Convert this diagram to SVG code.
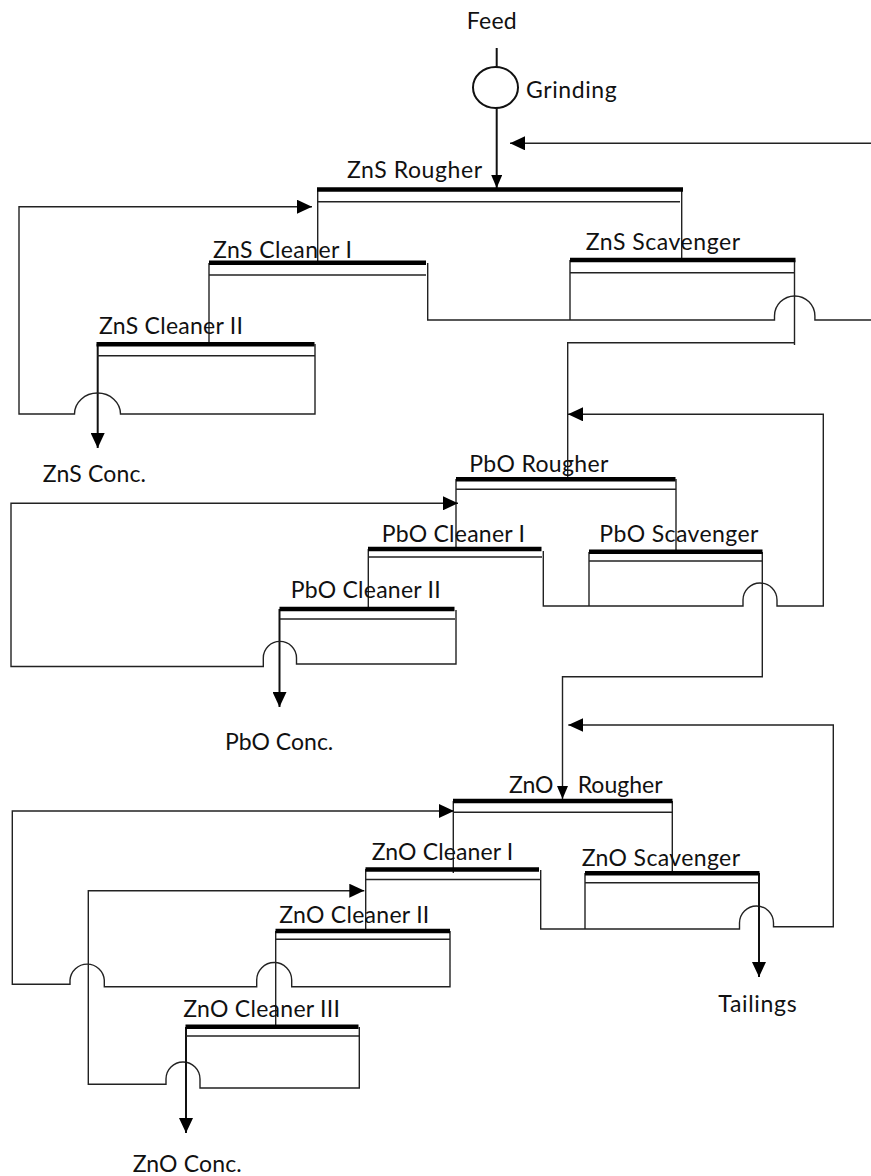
<svg xmlns="http://www.w3.org/2000/svg" width="871" height="1176" viewBox="0 0 871 1176">
<style>
text { font-family: Lato, "Liberation Sans", sans-serif; font-size: 23px; fill: #111; }
.bar { stroke: #000; stroke-width: 4.5; fill: none; }
.sub { stroke: #222; stroke-width: 1.4; fill: none; }
.c { stroke: #222; stroke-width: 1.4; fill: none; }
.cb { stroke: #111; stroke-width: 2; fill: none; }
</style>
<defs>
<marker id="ah" viewBox="0 0 15 14" refX="15" refY="7" markerWidth="15" markerHeight="14" orient="auto" markerUnits="userSpaceOnUse"><path d="M0,0 L15,7 L0,14 Z" fill="#000"/></marker>
<marker id="as" viewBox="0 0 13 11" refX="13" refY="5.5" markerWidth="13" markerHeight="11" orient="auto" markerUnits="userSpaceOnUse"><path d="M0,0 L13,5.5 L0,11 Z" fill="#000"/></marker>
</defs>
<rect width="871" height="1176" fill="#fff"/>

<g id="connectors">
<path class="cb" d="M496.7 48 V67"/>
<path class="cb" d="M496.7 108 V188" marker-end="url(#as)"/>
<path class="c" d="M871 143.3 H510" marker-end="url(#ah)"/>
<path class="c" d="M317.7 189 V262"/>
<path class="c" d="M681.7 190 V258"/>
<path class="c" d="M209 263 V344"/>
<path class="c" d="M427.7 263 V320 H774.5 V316 A20.2 20 0 0 1 814.9 316 V320 H871"/>
<path class="c" d="M570 260 V320"/>
<path class="c" d="M794.5 260 V345 M794.5 342.7 H567.7 V479"/>
<path class="cb" d="M97.7 344 V448" marker-end="url(#ah)"/>
<path class="c" d="M315 344 V414 H120.5 A23 21 0 0 0 74.5 414 H19 V206.7 H312" marker-end="url(#ah)"/>

<path class="c" d="M543.3 551 V606 H743 V600 A17 17 0 0 1 777 600 V606 H823.3 V414.3 H568" marker-end="url(#ah)"/>
<path class="c" d="M456 479 V549"/>
<path class="c" d="M676 479 V551"/>
<path class="c" d="M589 552 V606"/>
<path class="c" d="M368.3 549 V609"/>
<path class="cb" d="M279.5 609 V707" marker-end="url(#ah)"/>
<path class="c" d="M456 610 V664 H296.5 V658 A16.6 16.6 0 0 0 263.3 658 V666.5 H11 V503.3 H458" marker-end="url(#ah)"/>
<path class="c" d="M762.3 552 V676.7 H562.5 V799" marker-end="url(#as)"/>

<path class="c" d="M540.7 870 V929 H739.5 V923 A17 17 0 0 1 773.5 923 V926.7 H833.3 V725 H568.3" marker-end="url(#ah)"/>
<path class="c" d="M453.3 801 V873"/>
<path class="c" d="M672.3 801 V872"/>
<path class="c" d="M585 873 V929"/>
<path class="cb" d="M759 873 V977" marker-end="url(#ah)"/>
<path class="c" d="M450 931 V986.7 H291.7 V980 A17.5 17.5 0 0 0 256.7 980 V986.7 H104.3 V980 A17.2 17.2 0 0 0 70 980 V984.3 H12.3 V811 H454" marker-end="url(#ah)"/>
<path class="c" d="M365.7 869 V931"/>
<path class="c" d="M359.3 1027 V1088 H200 V1079 A17 17 0 0 0 166 1079 V1084.3 H88.3 V890.7 H364.3" marker-end="url(#ah)"/>
<path class="c" d="M275.7 931 V1027"/>
<path class="cb" d="M186 1027 V1133" marker-end="url(#ah)"/>
</g>

<g id="feed"><text x="466.7" y="29" textLength="50">Feed</text></g>
<g id="grinding"><ellipse cx="495.5" cy="87.5" rx="22.5" ry="20.5" fill="none" stroke="#111" stroke-width="2"/><text x="526" y="98.3" textLength="90.7">Grinding</text></g>

<g id="zns-rougher"><path class="bar" d="M317 189.5 H683"/><path class="sub" d="M317 201.7 H680"/><text x="347" y="178" textLength="135">ZnS Rougher</text></g>
<g id="zns-cleaner-1"><path class="bar" d="M209 262.7 H426"/><path class="sub" d="M209 275 H426"/><text x="213" y="258.3" textLength="139">ZnS Cleaner I</text></g>
<g id="zns-scavenger"><path class="bar" d="M570 260 H795.5"/><path class="sub" d="M570 272.7 H795"/><text x="585.7" y="250" textLength="154.3">ZnS Scavenger</text></g>
<g id="zns-cleaner-2"><path class="bar" d="M96.5 344.3 H314.5"/><path class="sub" d="M97 355.7 H315"/><text x="99" y="334.3" textLength="144">ZnS Cleaner II</text></g>
<g id="zns-conc"><text x="42.7" y="481.7" textLength="103.3">ZnS Conc.</text></g>

<g id="pbo-rougher"><path class="bar" d="M456 479.3 H675.5"/><path class="sub" d="M456 489.3 H676"/><text x="469.3" y="471.7" textLength="139">PbO Rougher</text></g>
<g id="pbo-cleaner-1"><path class="bar" d="M368 549 H541.5"/><path class="sub" d="M368 557 H542"/><text x="381.7" y="541.7" textLength="143.3">PbO Cleaner I</text></g>
<g id="pbo-scavenger"><path class="bar" d="M589 551.7 H762.5"/><path class="sub" d="M589 561 H762"/><text x="599.3" y="541.7" textLength="159">PbO Scavenger</text></g>
<g id="pbo-cleaner-2"><path class="bar" d="M279.5 609 H454.5"/><path class="sub" d="M280 619 H455"/><text x="290.7" y="598.3" textLength="150">PbO Cleaner II</text></g>
<g id="pbo-conc"><text x="225" y="750" textLength="108.3">PbO Conc.</text></g>

<g id="zno-rougher"><path class="bar" d="M453 801 H672.5"/><path class="sub" d="M453.3 812.3 H672.3"/><text x="509" y="793.3">ZnO <tspan x="577.7">Rougher</tspan></text></g>
<g id="zno-cleaner-1"><path class="bar" d="M365.5 869.5 H539"/><path class="sub" d="M365.7 879.5 H540"/><text x="371.7" y="860" textLength="141.6">ZnO Cleaner I</text></g>
<g id="zno-scavenger"><path class="bar" d="M585 873.3 H759.5"/><path class="sub" d="M585 882.7 H759"/><text x="581.7" y="865.7" textLength="158.3">ZnO Scavenger</text></g>
<g id="zno-cleaner-2"><path class="bar" d="M275.5 931 H450"/><path class="sub" d="M275.7 939.3 H450"/><text x="279.3" y="922.7" textLength="150">ZnO Cleaner II</text></g>
<g id="zno-cleaner-3"><path class="bar" d="M185.5 1026.7 H358.5"/><path class="sub" d="M186 1036 H359"/><text x="183.3" y="1017" textLength="156.7">ZnO Cleaner III</text></g>
<g id="tailings"><text x="718.3" y="1011.7" textLength="78.4">Tailings</text></g>
<g id="zno-conc"><text x="132.7" y="1171.7" textLength="109">ZnO Conc.</text></g>
</svg>
